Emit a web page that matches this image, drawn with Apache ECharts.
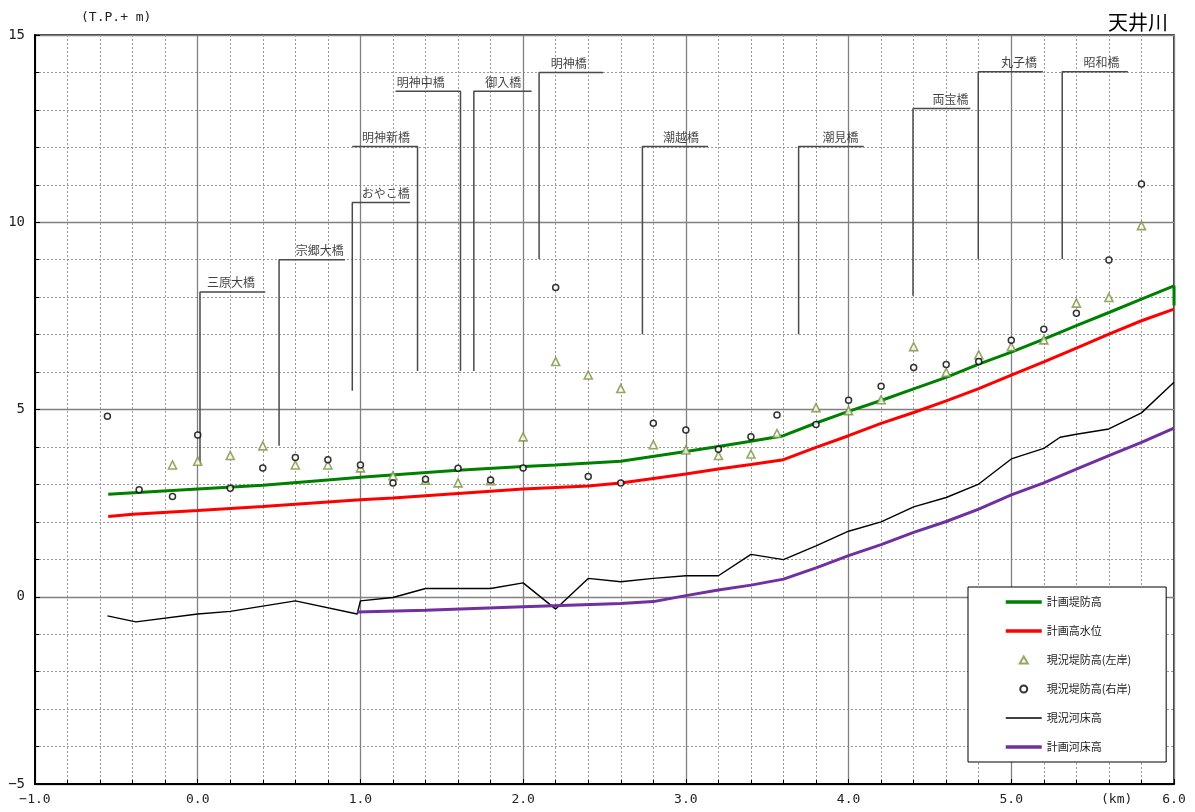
<!DOCTYPE html>
<html><head><meta charset="utf-8">
<script src="https://cdn.jsdelivr.net/npm/echarts@6/dist/echarts.min.js"></script>
<style>html,body{margin:0;padding:0;background:#fff}#c{width:1195px;height:812px}</style>
</head><body><div id="c"></div>
<script>
// ---- data (km, T.P.+m) ----
const planDikeX = [-0.55, 0.0, 0.4, 0.8, 1.0, 1.6, 2.0, 2.2, 2.6, 3.0, 3.2, 3.4, 3.6, 3.8, 4.0, 4.2, 4.4, 4.6, 4.8, 5.0, 5.2, 5.4, 5.6, 5.8, 6.0, 6.0];
const planDikeY = [2.74, 2.88, 2.98, 3.12, 3.19, 3.38, 3.48, 3.52, 3.62, 3.88, 4.01, 4.15, 4.30, 4.64, 4.95, 5.24, 5.55, 5.86, 6.21, 6.53, 6.88, 7.24, 7.59, 7.95, 8.30, 7.78];

const planHWLX = [-0.55, -0.4, 0.0, 0.4, 1.0, 1.2, 1.6, 2.0, 2.4, 2.6, 3.0, 3.2, 3.4, 3.6, 3.8, 4.0, 4.2, 4.4, 4.6, 4.8, 5.0, 5.2, 5.4, 5.6, 5.8, 6.0];
const planHWLY = [2.14, 2.20, 2.30, 2.41, 2.59, 2.64, 2.76, 2.88, 2.96, 3.04, 3.28, 3.41, 3.53, 3.66, 3.99, 4.30, 4.63, 4.92, 5.23, 5.56, 5.92, 6.27, 6.64, 7.01, 7.37, 7.68];

const leftBankX = [-0.155, 0.0, 0.2, 0.4, 0.6, 0.8, 1.0, 1.2, 1.4, 1.6, 1.8, 2.0, 2.2, 2.4, 2.6, 2.8, 3.0, 3.2, 3.4, 3.56, 3.8, 4.0, 4.2, 4.4, 4.6, 4.8, 5.0, 5.2, 5.4, 5.6, 5.8];
const leftBankY = [3.52, 3.62, 3.77, 4.03, 3.52, 3.52, 3.44, 3.23, 3.11, 3.04, 3.10, 4.27, 6.28, 5.92, 5.56, 4.06, 3.92, 3.77, 3.81, 4.36, 5.05, 4.97, 5.26, 6.68, 5.99, 6.46, 6.68, 6.86, 7.84, 7.99, 9.91];

const rightBankX = [-0.555, -0.36, -0.155, 0.0, 0.2, 0.4, 0.6, 0.8, 1.0, 1.2, 1.4, 1.6, 1.8, 2.0, 2.2, 2.4, 2.6, 2.8, 3.0, 3.2, 3.4, 3.56, 3.8, 4.0, 4.2, 4.4, 4.6, 4.8, 5.0, 5.2, 5.4, 5.6, 5.8];
const rightBankY = [4.82, 2.86, 2.68, 4.32, 2.90, 3.44, 3.72, 3.66, 3.52, 3.04, 3.14, 3.43, 3.12, 3.44, 8.26, 3.21, 3.04, 4.63, 4.45, 3.94, 4.27, 4.85, 4.60, 5.25, 5.62, 6.12, 6.20, 6.28, 6.85, 7.14, 7.57, 8.99, 11.02];

const bedNowX = [-0.555, -0.38, 0.0, 0.2, 0.6, 0.98, 1.0, 1.2, 1.4, 1.6, 1.8, 2.0, 2.2, 2.4, 2.6, 2.8, 3.0, 3.2, 3.4, 3.6, 3.8, 4.0, 4.2, 4.4, 4.6, 4.8, 5.0, 5.2, 5.3, 5.4, 5.6, 5.8, 6.0];
const bedNowY = [-0.51, -0.67, -0.46, -0.39, -0.11, -0.46, -0.11, -0.02, 0.22, 0.22, 0.22, 0.37, -0.33, 0.49, 0.40, 0.49, 0.56, 0.56, 1.13, 0.99, 1.36, 1.75, 2.00, 2.40, 2.65, 3.01, 3.68, 3.96, 4.26, 4.34, 4.48, 4.91, 5.73];

const bedPlanX = [0.98, 1.4, 2.0, 2.6, 2.8, 3.0, 3.2, 3.4, 3.6, 3.8, 4.0, 4.2, 4.4, 4.6, 4.8, 5.0, 5.2, 5.4, 5.6, 5.8, 6.0];
const bedPlanY = [-0.41, -0.36, -0.27, -0.18, -0.13, 0.03, 0.18, 0.31, 0.47, 0.77, 1.10, 1.39, 1.72, 2.01, 2.34, 2.72, 3.04, 3.41, 3.77, 4.12, 4.50];

// bridges: name, stem x, stem bottom, top level, far end x, label centre x
const bridgeNames  = ['三原大橋', '宗郷大橋', 'おやこ橋', '明神新橋', '明神中橋', '御入橋', '明神橋', '潮越橋', '潮見橋', '両宝橋', '丸子橋', '昭和橋'];
const bridgeStemX  = [0.014, 0.50, 0.95, 1.351, 1.615, 1.697, 2.098, 2.733, 3.693, 4.396, 4.797, 5.313];
const bridgeBottom = [3.54, 4.03, 5.50, 6.03, 6.03, 6.03, 9.02, 7.01, 7.01, 8.04, 9.02, 9.02];
const bridgeTop    = [8.14, 9.00, 10.53, 12.02, 13.50, 13.50, 14.00, 12.02, 12.02, 13.04, 14.02, 14.02];
const bridgeEndX   = [0.415, 0.905, 1.304, 0.95, 1.216, 2.052, 2.491, 3.136, 4.093, 4.748, 5.194, 5.716];
const bridgeLabelX = [0.205, 0.75, 1.155, 1.157, 1.37, 1.877, 2.28, 2.97, 3.95, 4.627, 5.047, 5.555];

const seriesNames = ['計画堤防高', '計画高水位', '現況堤防高(左岸)', '現況堤防高(右岸)', '現況河床高', '計画河床高'];

// ---- build ----
const zip = (xs, ys) => xs.map((x, i) => [x, ys[i]]);
const bridgeLines = [];
const bridgeLabels = [];
bridgeNames.forEach((n, i) => {
  bridgeLines.push([bridgeStemX[i], bridgeBottom[i]]);
  bridgeLines.push([bridgeStemX[i], bridgeTop[i]]);
  bridgeLines.push([bridgeEndX[i], bridgeTop[i]]);
  bridgeLines.push([null, null]);
  bridgeLabels.push({ name: n, value: [bridgeLabelX[i], bridgeTop[i]] });
});

const MONO = '"DejaVu Sans Mono", monospace';
const JP = '"Noto Sans CJK JP", sans-serif';
const neg = s => s.replace('-', '\u2212');
const hideSym = { opacity: 0 };
const TRI = 'path://M0,10 L5.77,0 L11.55,10 Z';

const chart = echarts.init(document.getElementById('c'), null, { renderer: 'canvas' });
chart.setOption({
  animation: false,
  backgroundColor: '#fff',
  title: {
    text: '天井川', right: 22, top: 7,
    textStyle: { fontFamily: JP, fontSize: 20, fontWeight: 'normal', color: '#000' }
  },
  graphic: [
    { type: 'text', left: 81, top: 11, style: { text: '(T.P.+ m)', font: '13px ' + MONO, fill: '#222' } },
    { type: 'text', left: 1101, top: 793, style: { text: '(km)', font: '13px ' + MONO, fill: '#222' } }
  ],
  grid: { left: 35, right: 21, top: 35, bottom: 28, show: true, borderColor: '#000', borderWidth: 1.5, backgroundColor: 'transparent' },
  legend: {
    orient: 'vertical', left: 968, top: 587,
    data: [
      { name: seriesNames[0], itemStyle: hideSym, lineStyle: { width: 3.5 } },
      { name: seriesNames[1], itemStyle: hideSym, lineStyle: { width: 3.5 } },
      { name: seriesNames[2], icon: TRI },
      { name: seriesNames[3] },
      { name: seriesNames[4], itemStyle: hideSym, lineStyle: { width: 1.4 } },
      { name: seriesNames[5], itemStyle: hideSym, lineStyle: { width: 3.5 } }
    ],
    backgroundColor: '#fff', borderColor: '#000', borderWidth: 1,
    padding: [8, 35, 8, 36], itemGap: 15, itemWidth: 36, itemHeight: 7,
    textStyle: { fontFamily: JP, fontSize: 11, color: '#1a1a1a', lineHeight: 14 },
    selectedMode: false
  },
  xAxis: {
    type: 'value', min: -1, max: 6, interval: 1,
    axisLine: { show: true, onZero: false, lineStyle: { color: '#000', width: 2 } },
    axisTick: { show: true, inside: true, length: 5, lineStyle: { color: '#000' } },
    minorTick: { show: true, splitNumber: 5, length: 4, lineStyle: { color: '#000' } },
    axisLabel: { fontFamily: MONO, fontSize: 13, color: '#222', margin: 9, formatter: v => neg(v.toFixed(1)) },
    splitLine: { show: true, lineStyle: { color: '#808080', width: 1.3 } },
    minorSplitLine: { show: true, lineStyle: { color: '#9a9a9a', width: 1, type: [2, 2] } }
  },
  yAxis: {
    type: 'value', min: -5, max: 15, interval: 5,
    axisLine: { show: true, onZero: false, lineStyle: { color: '#000', width: 2 } },
    axisTick: { show: true, inside: true, length: 5, lineStyle: { color: '#000' } },
    minorTick: { show: true, splitNumber: 5, length: 4, lineStyle: { color: '#000' } },
    axisLabel: { fontFamily: MONO, fontSize: 14, color: '#222', margin: 10, formatter: v => neg(String(v)) },
    splitLine: { show: true, lineStyle: { color: '#808080', width: 1.3 } },
    minorSplitLine: { show: true, lineStyle: { color: '#9a9a9a', width: 1, type: [2, 2] } }
  },
  series: [
    {
      name: 'bridges', type: 'line', data: bridgeLines, connectNulls: false,
      symbol: 'none', silent: true, z: 2,
      lineStyle: { color: '#4a4a4a', width: 1.5 }
    },
    {
      name: 'bridgeLabels', type: 'scatter', data: bridgeLabels, symbolSize: 0, silent: true, z: 2,
      label: { show: true, position: 'top', distance: 3, formatter: p => p.name, fontFamily: JP, fontSize: 12, color: '#111' }
    },
    {
      name: seriesNames[4], type: 'line', data: zip(bedNowX, bedNowY), symbol: 'none', z: 3,
      lineStyle: { color: '#000', width: 1.4 }, itemStyle: { color: '#000' }
    },
    {
      name: seriesNames[5], type: 'line', data: zip(bedPlanX, bedPlanY), symbol: 'none', z: 3,
      lineStyle: { color: '#7030a0', width: 3 }, itemStyle: { color: '#7030a0' }
    },
    {
      name: seriesNames[1], type: 'line', data: zip(planHWLX, planHWLY), symbol: 'none', z: 3,
      lineStyle: { color: '#ff0000', width: 3 }, itemStyle: { color: '#ff0000' }
    },
    {
      name: seriesNames[0], type: 'line', data: zip(planDikeX, planDikeY), symbol: 'none', z: 3,
      lineStyle: { color: '#008000', width: 3 }, itemStyle: { color: '#008000' }
    },
    {
      name: seriesNames[2], type: 'scatter', data: zip(leftBankX, leftBankY), symbol: 'triangle', symbolSize: 8, z: 4,
      itemStyle: { color: '#fff', borderColor: '#77933c', borderWidth: 1.6 }
    },
    {
      name: seriesNames[3], type: 'scatter', data: zip(rightBankX, rightBankY), symbol: 'circle', symbolSize: 6, z: 4,
      itemStyle: { color: '#fff', borderColor: '#000', borderWidth: 1.5 }
    }
  ]
});
</script>
</body></html>
